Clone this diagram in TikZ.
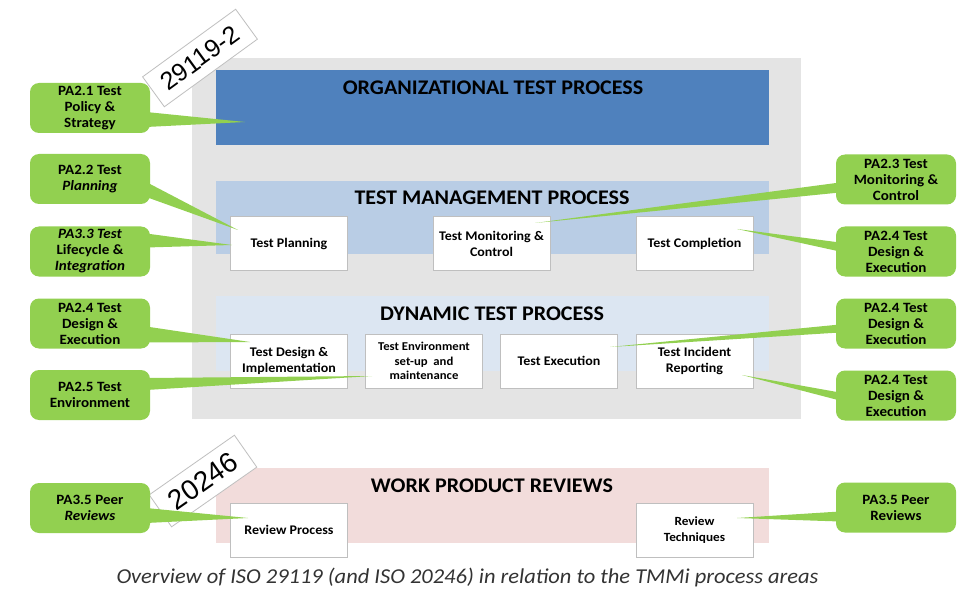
\documentclass[tikz,border=0pt]{standalone}
\usepackage{fontspec}
\setmainfont{Carlito}[FakeStretch=1.06]
\newfontfamily\tagfont{Liberation Sans}
\usetikzlibrary{calc}
\definecolor{bggray}{HTML}{E4E4E4}
\definecolor{orgblue}{HTML}{4F81BD}
\definecolor{mgmtblue}{HTML}{B9CDE5}
\definecolor{dynblue}{HTML}{DCE6F2}
\definecolor{reviewpink}{HTML}{F2DCDB}
\definecolor{pagreen}{HTML}{92D050}
\definecolor{boxborder}{HTML}{BFBFBF}
\definecolor{captiongray}{HTML}{333333}
\begin{document}
\begin{tikzpicture}[x=1pt,y=-1pt,
  procbox/.style={draw=boxborder,line width=0.8pt,fill=white,minimum width=117pt,minimum height=54pt,
    align=center,inner sep=1pt,font=\bfseries\fontsize{13.2}{16}\selectfont},
  pacallout/.style={fill=pagreen,rounded corners=9pt,minimum width=120pt,minimum height=50pt,
    align=center,inner sep=1pt,font=\bfseries\fontsize{14.2}{16}\selectfont},
  bandtitle/.style={font=\bfseries\fontsize{20.8}{22}\selectfont,inner sep=0pt},
  stdtag/.style={draw=boxborder,line width=0.8pt,fill=white,inner sep=0pt,font=\tagfont}
]
\useasboundingbox (0,0) rectangle (972,596);
\fill[white] (0,0) rectangle (972,596);

% backgrounds
\fill[bggray] (192,58) rectangle (801,419);
\fill[orgblue] (216,70) rectangle (769,145);
\fill[mgmtblue] (216,181) rectangle (769,254);
\fill[dynblue] (216,296) rectangle (769,371);
\fill[reviewpink] (216,468) rectangle (769,543);

% titles
\node[bandtitle] (torg) at (493,88) {ORGANIZATIONAL TEST PROCESS};
\node[bandtitle] (tmgmt) at (492,198) {TEST MANAGEMENT PROCESS};
\node[bandtitle] (tdyn) at (492,314) {DYNAMIC TEST PROCESS};
\node[bandtitle] (trev) at (492,486) {WORK PRODUCT REVIEWS};

% process boxes
\node[procbox] (plan) at (289,243.5) {Test Planning};
\node[procbox] (mon) at (491.5,243.5) {Test Monitoring \&\\Control};
\node[procbox] (comp) at (694.5,243.5) {Test Completion};
\node[procbox] (des) at (289,361) {Test Design \&\\Implementation};
\node[procbox,font=\bfseries\fontsize{12}{14.5}\selectfont] (env) at (424,361) {Test Environment\\set-up\ \ and\\maintenance};
\node[procbox] (exe) at (559,361) {Test Execution};
\node[procbox] (inc) at (694.5,361) {Test Incident\\Reporting};
\node[procbox] (rproc) at (289,530) {Review Process};
\node[procbox,font=\bfseries\fontsize{12.5}{16}\selectfont] (rtech) at (694.5,530) {Review\\Techniques};

% standard tags
\node[stdtag,rotate=36,minimum width=115pt,minimum height=37pt,font=\tagfont\fontsize{25}{25}\selectfont] (tag1) at (200,58) {29119-2};
\node[stdtag,rotate=35,minimum width=104pt,minimum height=39pt,font=\tagfont\fontsize{28}{28}\selectfont] (tag2) at (203,481) {20246};

% callouts
\node[pacallout] (c21) at (90,108) {PA2.1 Test\\Policy \&\\Strategy};
\node[pacallout] (c22) at (90,179) {PA2.2 Test\\\textit{Planning}};
\node[pacallout] (c33) at (90,251.5) {\textit{PA3.3 Test}\\Lifecycle \&\\\textit{Integration}};
\node[pacallout] (c24l) at (90,323.5) {PA2.4 Test\\Design \&\\Execution};
\node[pacallout] (c25) at (90,395) {PA2.5 Test\\Environment};
\node[pacallout] (c35l) at (90,508) {PA3.5 Peer\\\textit{Reviews}};

\node[pacallout] (c23) at (896,179.5) {PA2.3 Test\\Monitoring \&\\Control};
\node[pacallout] (c24a) at (896,251.5) {PA2.4 Test\\Design \&\\Execution};
\node[pacallout] (c24b) at (896,323.5) {PA2.4 Test\\Design \&\\Execution};
\node[pacallout] (c24c) at (896,395.5) {PA2.4 Test\\Design \&\\Execution};
\node[pacallout] (c35r) at (896,507.5) {PA3.5 Peer\\Reviews};

% tail tips
\coordinate (p21) at (245,122);
\coordinate (p22) at (238,230);
\coordinate (p33) at (232,245);
\coordinate (p24l) at (250,342);
\coordinate (p25) at (372,376);
\coordinate (p35l) at (248,518);
\coordinate (p23) at (535,223);
\coordinate (p24a) at (737,229);
\coordinate (p24b) at (610,347);
\coordinate (p24c) at (742,375);
\coordinate (p35r) at (737,518);

% tails
\fill[pagreen] ($(c21.east)+(-4,4)$) -- (p21) -- ($(c21.east)+(-4,19)$) -- cycle;
\fill[pagreen] ($(c22.east)+(-4,3)$) -- (p22) -- ($(c22.east)+(-4,18)$) -- cycle;
\fill[pagreen] ($(c33.east)+(-4,-18)$) -- (p33) -- ($(c33.east)+(-4,-4)$) -- cycle;
\fill[pagreen] ($(c24l.east)+(-4,3)$) -- (p24l) -- ($(c24l.east)+(-4,19)$) -- cycle;
\fill[pagreen] ($(c25.east)+(-4,-17)$) -- (p25) -- ($(c25.east)+(-4,-5)$) -- cycle;
\fill[pagreen] ($(c35l.east)+(-4,0)$) -- (p35l) -- ($(c35l.east)+(-4,15)$) -- cycle;
\fill[pagreen] ($(c23.west)+(4,3)$) -- (p23) -- ($(c23.west)+(4,13)$) -- cycle;
\fill[pagreen] ($(c24a.west)+(4,-9)$) -- (p24a) -- ($(c24a.west)+(4,0)$) -- cycle;
\fill[pagreen] ($(c24b.west)+(4,1)$) -- (p24b) -- ($(c24b.west)+(4,9)$) -- cycle;
\fill[pagreen] ($(c24c.west)+(4,-3)$) -- (p24c) -- ($(c24c.west)+(4,5)$) -- cycle;
\fill[pagreen] ($(c35r.west)+(4,4)$) -- (p35r) -- ($(c35r.west)+(4,14)$) -- cycle;

% caption
\node[font=\itshape\fontsize{21.2}{23}\selectfont,text=captiongray,inner sep=0pt] (cap) at (467.5,577)
  {Overview of ISO 29119 (and ISO 20246) in relation to the TMMi process areas};
\end{tikzpicture}
\end{document}
